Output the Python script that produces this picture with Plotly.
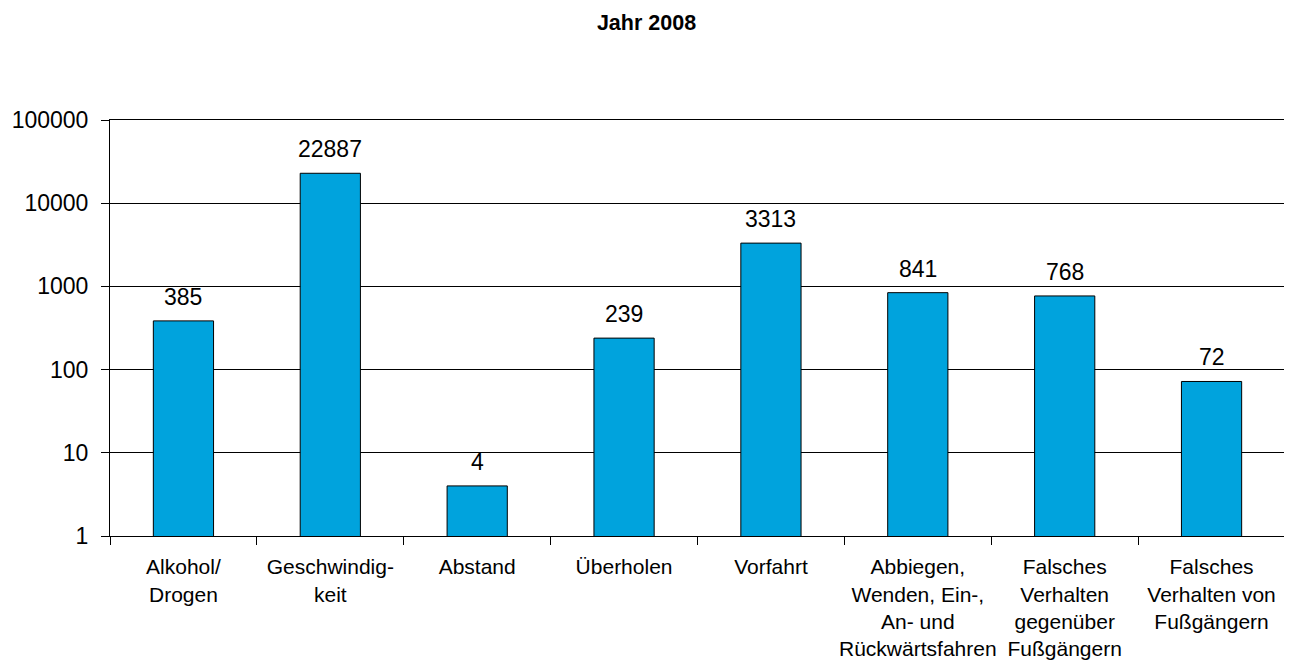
import math
import plotly.graph_objects as go

categories = [
    "Alkohol/<br>Drogen",
    "Geschwindig-<br>keit",
    "Abstand",
    "Überholen",
    "Vorfahrt",
    "Abbiegen,<br>Wenden, Ein-,<br>An- und<br>Rückwärtsfahren",
    "Falsches<br>Verhalten<br>gegenüber<br>Fußgängern",
    "Falsches<br>Verhalten von<br>Fußgängern",
]
values = [385, 22887, 4, 239, 3313, 841, 768, 72]
y_tickvals = [1, 10, 100, 1000, 10000, 100000]
y_ticktext = ["1", "10", "100", "1000", "10000", "100000"]
title_text = "<b>Jahr 2008</b>"

FONT = "Liberation Sans, Arial, sans-serif"

W, H = 1277, 655

fig = go.Figure(
    go.Bar(
        x=categories,
        y=values,
        marker=dict(color="#00A3DD", line=dict(color="black", width=1)),
        width=0.41,
        hoverinfo="x+y",
    )
)

for c, v in zip(categories, values):
    fig.add_annotation(
        x=c, y=math.log10(v), xref="x", yref="y",
        text=str(v), showarrow=False,
        yanchor="bottom", yshift=9,
        font=dict(family=FONT, size=23, color="black"),
    )

fig.update_layout(
    width=W,
    height=H,
    paper_bgcolor="white",
    plot_bgcolor="white",
    margin=dict(l=102, r=0, t=112, b=127),
    showlegend=False,
    font=dict(family=FONT, color="black"),
    title=dict(
        text=title_text,
        x=0.5,
        xanchor="center",
        y=1 - 14 / H,
        yanchor="middle",
        font=dict(family=FONT, size=21.5, color="black"),
    ),
)

fig.update_xaxes(
    type="category",
    automargin=False,
    tickson="boundaries",
    tickangle=0,
    ticks="outside",
    ticklen=8,
    tickcolor="black",
    showline=True,
    linecolor="black",
    linewidth=1,
    mirror=True,
    showgrid=False,
    ticklabelstandoff=12,
    tickfont=dict(family=FONT, size=21, color="black"),
)

fig.update_yaxes(
    type="log",
    automargin=False,
    range=[0, 5],
    tickvals=y_tickvals,
    ticktext=y_ticktext,
    ticks="outside",
    ticklen=8,
    tickcolor="black",
    showline=True,
    linecolor="black",
    linewidth=1,
    mirror=True,
    showgrid=True,
    gridcolor="black",
    gridwidth=1,
    zeroline=False,
    ticklabelstandoff=8,
    tickfont=dict(family=FONT, size=23, color="black"),
)

fig.write_html("out.html")
